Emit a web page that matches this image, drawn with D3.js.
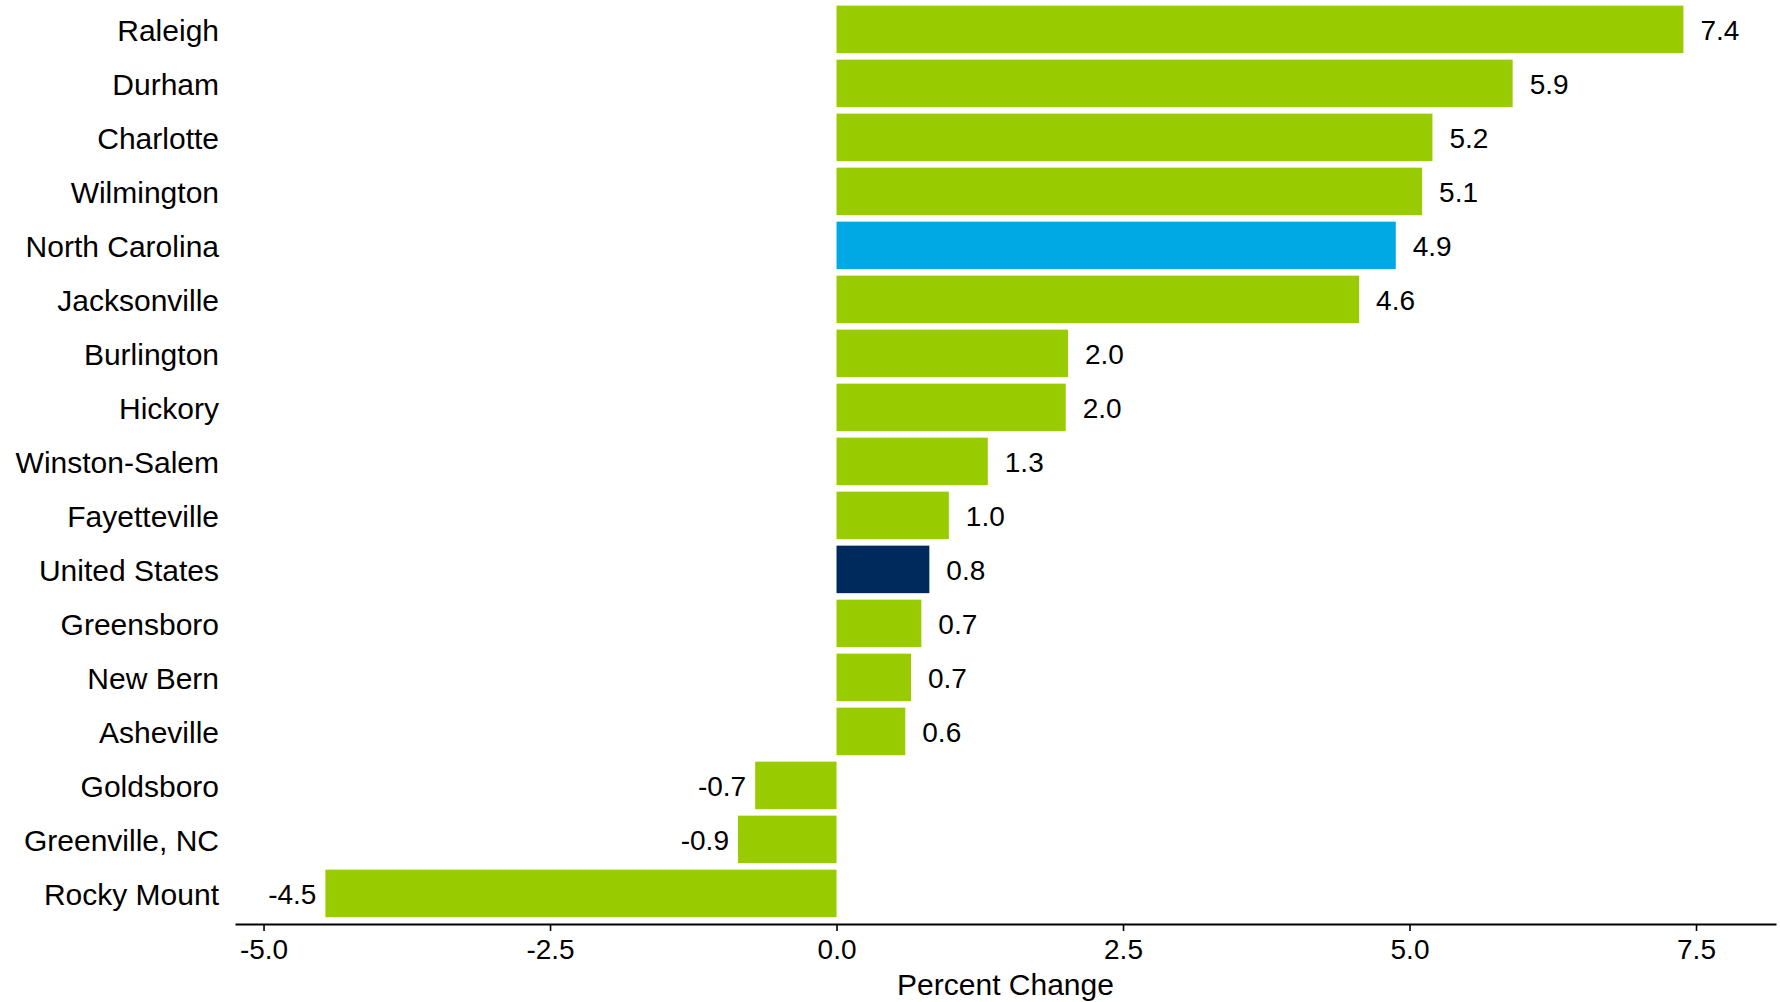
<!DOCTYPE html>
<html>
<head>
<meta charset="utf-8">
<script src="https://cdn.jsdelivr.net/npm/d3@7"></script>
<style>
  html, body { margin: 0; padding: 0; background: #fff; }
  svg { display: block; font-family: "Liberation Sans", Arial, sans-serif; }
</style>
</head>
<body>
<svg id="chart" width="1780" height="1002"></svg>
<script>
// Metro areas, ordered top to bottom
const areas = [
  "Raleigh", "Durham", "Charlotte", "Wilmington", "North Carolina",
  "Jacksonville", "Burlington", "Hickory", "Winston-Salem", "Fayetteville",
  "United States", "Greensboro", "New Bern", "Asheville", "Goldsboro",
  "Greenville, NC", "Rocky Mount"
];
// Percent change for each area
const pctChange = [
  7.39, 5.90, 5.20, 5.11, 4.88,
  4.56, 2.02, 2.00, 1.32, 0.98,
  0.81, 0.74, 0.65, 0.60, -0.71,
  -0.86, -4.46
];
const xTicks = [-5.0, -2.5, 0.0, 2.5, 5.0, 7.5];

const data = areas.map((name, i) => ({ name, value: pctChange[i] }));

const fillFor = name =>
  name === "North Carolina" ? "#00a9e4" :
  name === "United States" ? "#002a5c" : "#99cc00";

// Plain hyphen for negative numbers
const locale = d3.formatLocale({
  decimal: ".", thousands: ",", grouping: [3], currency: ["$", ""], minus: "-"
});
const fmt = locale.format(".1f");

const svg = d3.select("#chart");

const x = d3.scaleLinear().domain([-5.249, 8.198]).range([235, 1776]);
const y = d3.scaleBand().domain(areas).range([2.4, 920.4])
  .paddingInner(0.12).paddingOuter(0.06);

// Bars
svg.append("g").selectAll("rect")
  .data(data)
  .join("rect")
  .attr("x", d => x(Math.min(0, d.value)))
  .attr("width", d => Math.abs(x(d.value) - x(0)))
  .attr("y", d => y(d.name))
  .attr("height", y.bandwidth())
  .attr("fill", d => fillFor(d.name));

// Value labels beside bar ends
svg.append("g").selectAll("text")
  .data(data)
  .join("text")
  .attr("x", d => d.value >= 0 ? x(d.value) + 17 : x(d.value) - 9)
  .attr("y", d => y(d.name) + y.bandwidth() / 2)
  .attr("dy", "0.38em")
  .attr("text-anchor", d => d.value >= 0 ? "start" : "end")
  .attr("font-size", 28)
  .attr("fill", "#000")
  .text(d => fmt(d.value));

// Category labels
svg.append("g").selectAll("text")
  .data(data)
  .join("text")
  .attr("x", 219)
  .attr("y", d => y(d.name) + y.bandwidth() / 2)
  .attr("dy", "0.38em")
  .attr("text-anchor", "end")
  .attr("font-size", 30)
  .attr("fill", "#000")
  .text(d => d.name);

// Bottom axis
const axisY = 924;
const xAxis = svg.append("g")
  .attr("transform", `translate(0,${axisY})`)
  .call(d3.axisBottom(x).tickValues(xTicks).tickFormat(fmt)
    .tickSize(7).tickSizeOuter(0));
xAxis.select(".domain").attr("stroke", "#000").attr("stroke-width", 2.2);
xAxis.selectAll(".tick line").attr("stroke", "#000").attr("stroke-width", 1.6);
xAxis.selectAll(".tick text")
  .attr("font-size", 28)
  .attr("font-family", "Liberation Sans, Arial, sans-serif")
  .attr("fill", "#000")
  .attr("y", 15)
  .attr("dy", "0.71em");

// Axis title
svg.append("text")
  .attr("x", (235 + 1776) / 2)
  .attr("y", 995)
  .attr("text-anchor", "middle")
  .attr("font-size", 30)
  .attr("fill", "#000")
  .text("Percent Change");
</script>
</body>
</html>
